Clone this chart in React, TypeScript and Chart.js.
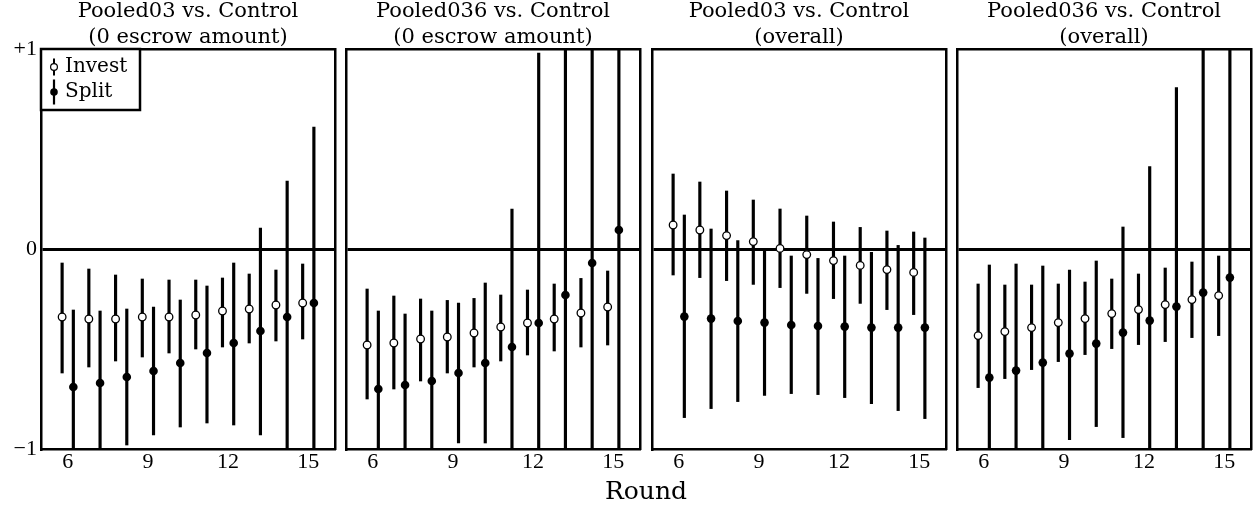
import React, { useEffect, useRef } from 'react';
import { Chart, registerables } from 'chart.js';

Chart.register(...registerables);

// ---------- data ----------
const ROUNDS = [6, 7, 8, 9, 10, 11, 12, 13, 14, 15];
const X_TICKS = [6, 9, 12, 15];
const Y_TICKS = [-1, 0, 1];
const X_MIN = 5;
const X_MAX = 16;
const Y_MIN = -1;
const Y_MAX = 1;
const SERIES = ['Invest', 'Split'];
const TITLES = [
  ['Pooled03 vs. Control', '(0 escrow amount)'],
  ['Pooled036 vs. Control', '(0 escrow amount)'],
  ['Pooled03 vs. Control', '(overall)'],
  ['Pooled036 vs. Control', '(overall)'],
];
const X_LABEL = 'Round';

// Panel 1: Pooled03 vs. Control (0 escrow amount)
const p1InvestMean = [-0.34, -0.35, -0.35, -0.34, -0.34, -0.33, -0.31, -0.30, -0.28, -0.27];
const p1InvestLow = [-0.62, -0.59, -0.56, -0.54, -0.52, -0.50, -0.49, -0.47, -0.46, -0.45];
const p1InvestHigh = [-0.07, -0.10, -0.13, -0.15, -0.155, -0.155, -0.145, -0.125, -0.105, -0.075];
const p1SplitMean = [-0.69, -0.67, -0.64, -0.61, -0.57, -0.52, -0.47, -0.41, -0.34, -0.27];
const p1SplitLow = [-1.1, -1.1, -0.98, -0.93, -0.89, -0.87, -0.88, -0.93, -1.1, -1.1];
const p1SplitHigh = [-0.305, -0.31, -0.30, -0.29, -0.255, -0.185, -0.07, 0.105, 0.34, 0.61];

// Panel 2: Pooled036 vs. Control (0 escrow amount)
const p2InvestMean = [-0.48, -0.47, -0.45, -0.44, -0.42, -0.39, -0.37, -0.35, -0.32, -0.29];
const p2InvestLow = [-0.75, -0.70, -0.66, -0.62, -0.59, -0.56, -0.53, -0.51, -0.49, -0.48];
const p2InvestHigh = [-0.20, -0.235, -0.25, -0.257, -0.247, -0.23, -0.205, -0.175, -0.147, -0.11];
const p2SplitMean = [-0.70, -0.68, -0.66, -0.62, -0.57, -0.49, -0.37, -0.23, -0.07, 0.095];
const p2SplitLow = [-1.1, -1.1, -1.1, -0.97, -0.97, -1.1, -1.1, -1.1, -1.1, -1.1];
const p2SplitHigh = [-0.31, -0.325, -0.31, -0.27, -0.17, 0.20, 0.98, 1.1, 1.1, 1.1];

// Panel 3: Pooled03 vs. Control (overall)
const p3InvestMean = [0.12, 0.095, 0.067, 0.037, 0.003, -0.028, -0.058, -0.082, -0.103, -0.117];
const p3InvestLow = [-0.13, -0.143, -0.158, -0.177, -0.193, -0.222, -0.248, -0.272, -0.303, -0.328];
const p3InvestHigh = [0.375, 0.335, 0.29, 0.245, 0.20, 0.165, 0.135, 0.108, 0.09, 0.085];
const p3SplitMean = [-0.338, -0.348, -0.36, -0.368, -0.38, -0.385, -0.388, -0.393, -0.393, -0.393];
const p3SplitLow = [-0.843, -0.798, -0.763, -0.732, -0.723, -0.728, -0.743, -0.773, -0.808, -0.848];
const p3SplitHigh = [0.17, 0.10, 0.042, -0.008, -0.035, -0.047, -0.035, -0.017, 0.018, 0.055];

// Panel 4: Pooled036 vs. Control (overall)
const p4InvestMean = [-0.433, -0.413, -0.393, -0.368, -0.348, -0.323, -0.303, -0.278, -0.253, -0.233];
const p4InvestLow = [-0.693, -0.648, -0.603, -0.563, -0.528, -0.498, -0.478, -0.463, -0.443, -0.433];
const p4InvestHigh = [-0.175, -0.18, -0.18, -0.175, -0.165, -0.15, -0.125, -0.095, -0.065, -0.035];
const p4SplitMean = [-0.643, -0.608, -0.568, -0.523, -0.473, -0.418, -0.358, -0.288, -0.218, -0.143];
const p4SplitLow = [-1.1, -1.1, -1.1, -0.953, -0.888, -0.943, -1.1, -1.1, -1.1, -1.1];
const p4SplitHigh = [-0.08, -0.075, -0.085, -0.105, -0.06, 0.11, 0.412, 0.807, 1.1, 1.1];

const PANELS = [
  { investMean: p1InvestMean, investLow: p1InvestLow, investHigh: p1InvestHigh, splitMean: p1SplitMean, splitLow: p1SplitLow, splitHigh: p1SplitHigh },
  { investMean: p2InvestMean, investLow: p2InvestLow, investHigh: p2InvestHigh, splitMean: p2SplitMean, splitLow: p2SplitLow, splitHigh: p2SplitHigh },
  { investMean: p3InvestMean, investLow: p3InvestLow, investHigh: p3InvestHigh, splitMean: p3SplitMean, splitLow: p3SplitLow, splitHigh: p3SplitHigh },
  { investMean: p4InvestMean, investLow: p4InvestLow, investHigh: p4InvestHigh, splitMean: p4SplitMean, splitLow: p4SplitLow, splitHigh: p4SplitHigh },
];

// ---------- layout / style ----------
const FIG_W = 1259;
const FIG_H = 512;
const PLOT_LEFT = [41, 346, 652, 957];
const PLOT_W = 294;
const PLOT_TOP = 49;
const PLOT_BOTTOM = 449;
const FIRST_AXIS_W = 41;
const SIDE_GAP = 6;
const INVEST_SHIFT = -0.21;
const SPLIT_SHIFT = 0.21;
const FRAME_W = 2.5;
const ERR_W = 2.5;
const NUM_FONT = 'Liberation Serif';
const WORD_FONT = 'DejaVu Serif';

const fmtY = (v: number) => (v > 0 ? '+' + v : v < 0 ? '\u2212' + Math.abs(v) : '0');

const insetLegend = {
  id: 'insetLegend',
  afterDraw(chart: any, _args: any, opts: any) {
    if (!opts || !opts.display) return;
    const { ctx, chartArea } = chart;
    const x0 = chartArea.left;
    const y0 = chartArea.top;
    ctx.save();
    ctx.fillStyle = '#fff';
    ctx.fillRect(x0, y0, opts.width, opts.height);
    ctx.lineWidth = FRAME_W;
    ctx.strokeStyle = '#000';
    ctx.strokeRect(x0, y0, opts.width, opts.height);
    ctx.font = `20px "${WORD_FONT}"`;
    ctx.textBaseline = 'middle';
    ctx.textAlign = 'left';
    opts.items.forEach((it: any, i: number) => {
      const cy = y0 + opts.firstY + i * opts.step;
      const mx = x0 + opts.markerX;
      ctx.fillStyle = '#000';
      ctx.fillRect(mx - it.lw / 2, cy - it.len / 2, it.lw, it.len);
      ctx.beginPath();
      ctx.arc(mx, cy, it.r, 0, Math.PI * 2);
      ctx.fillStyle = it.filled ? '#000' : '#fff';
      ctx.fill();
      if (!it.filled) {
        ctx.lineWidth = 1.2;
        ctx.strokeStyle = '#000';
        ctx.stroke();
      }
      ctx.fillStyle = '#000';
      ctx.fillText(it.text, x0 + opts.textX, cy);
    });
    ctx.restore();
  },
};

function buildConfig(i: number): any {
  const p = PANELS[i];
  const border = { display: true, color: '#000', width: FRAME_W };
  return {
    type: 'bar',
    data: {
      datasets: [
        {
          type: 'scatter',
          label: SERIES[0],
          data: ROUNDS.map((r, k) => ({ x: r + INVEST_SHIFT, y: p.investMean[k] })),
          pointRadius: 3.8,
          pointHoverRadius: 3.8,
          pointBackgroundColor: '#fff',
          pointBorderColor: '#000',
          pointBorderWidth: 1.3,
          showLine: false,
          order: 0,
        },
        {
          type: 'scatter',
          label: SERIES[1],
          data: ROUNDS.map((r, k) => ({ x: r + SPLIT_SHIFT, y: p.splitMean[k] })),
          pointRadius: 4.3,
          pointHoverRadius: 4.3,
          pointBackgroundColor: '#000',
          pointBorderColor: '#000',
          pointBorderWidth: 0,
          showLine: false,
          order: 1,
        },
        {
          type: 'bar',
          label: SERIES[0] + ' interval',
          data: ROUNDS.map((r, k) => ({ x: r + INVEST_SHIFT, y: [p.investLow[k], p.investHigh[k]] })),
          backgroundColor: '#000',
          borderWidth: 0,
          barThickness: ERR_W,
          grouped: false,
          clip: 0,
          order: 2,
        },
        {
          type: 'bar',
          label: SERIES[1] + ' interval',
          data: ROUNDS.map((r, k) => ({ x: r + SPLIT_SHIFT, y: [p.splitLow[k], p.splitHigh[k]] })),
          backgroundColor: '#000',
          borderWidth: 0,
          barThickness: ERR_W,
          grouped: false,
          clip: 0,
          order: 3,
        },
      ],
    },
    options: {
      responsive: false,
      animation: false,
      devicePixelRatio: 1,
      events: [],
      layout: { padding: 0 },
      plugins: {
        legend: { display: false },
        tooltip: { enabled: false },
        title: {
          display: true,
          text: TITLES[i],
          color: '#000',
          fullSize: false,
          font: { family: WORD_FONT, size: 21, weight: 'normal', lineHeight: '26px' },
          padding: { top: -1, bottom: -2 },
        },
        insetLegend: {
          display: i === 0,
          width: 99,
          height: 61,
          markerX: 13,
          textX: 24,
          firstY: 18,
          step: 25,
          items: [
            { text: SERIES[0], filled: false, r: 3.4, lw: 2, len: 17 },
            { text: SERIES[1], filled: true, r: 3.8, lw: 2.2, len: 25 },
          ],
        },
      },
      scales: {
        x: {
          type: 'linear',
          position: 'bottom',
          min: X_MIN,
          max: X_MAX,
          offset: false,
          grid: { display: false, drawTicks: false, offset: false },
          border,
          ticks: { color: '#000', font: { family: NUM_FONT, size: 22 }, padding: 0, autoSkip: false, maxRotation: 0 },
          afterBuildTicks: (s: any) => { s.ticks = X_TICKS.map((v) => ({ value: v })); },
          afterFit: (s: any) => { s.height = FIG_H - PLOT_BOTTOM; },
        },
        xTop: {
          type: 'linear',
          position: 'top',
          min: X_MIN,
          max: X_MAX,
          grid: { display: false, drawTicks: false },
          border,
          ticks: { display: false },
          afterFit: (s: any) => { s.height = 0; },
        },
        y: {
          type: 'linear',
          position: 'left',
          min: Y_MIN,
          max: Y_MAX,
          grid: {
            display: true,
            drawTicks: false,
            lineWidth: 3,
            color: (c: any) => (c.tick && c.tick.value === 0 ? '#000' : 'rgba(0,0,0,0)'),
          },
          border,
          ticks: {
            display: i === 0,
            color: '#000',
            font: { family: NUM_FONT, size: 22 },
            padding: 4,
            callback: (v: any) => fmtY(Number(v)),
          },
          afterBuildTicks: (s: any) => { s.ticks = Y_TICKS.map((v) => ({ value: v })); },
          afterFit: (s: any) => { s.width = i === 0 ? FIRST_AXIS_W : SIDE_GAP; },
        },
        yRight: {
          type: 'linear',
          position: 'right',
          min: Y_MIN,
          max: Y_MAX,
          grid: { display: false, drawTicks: false },
          border,
          ticks: { display: false },
          afterFit: (s: any) => { s.width = SIDE_GAP; },
        },
      },
    },
    plugins: [insetLegend],
  };
}

function canvasLeft(i: number) {
  return PLOT_LEFT[i] - (i === 0 ? FIRST_AXIS_W : SIDE_GAP);
}
function canvasWidth(i: number) {
  return (i === 0 ? FIRST_AXIS_W : SIDE_GAP) + PLOT_W + SIDE_GAP;
}

export default function App() {
  const refs = useRef<(HTMLCanvasElement | null)[]>([]);
  useEffect(() => {
    const charts = PANELS.map((_, i) => new Chart(refs.current[i] as HTMLCanvasElement, buildConfig(i)));
    return () => charts.forEach((c) => c.destroy());
  }, []);
  return (
    <div style={{ position: 'fixed', left: 0, top: 0, width: FIG_W, height: FIG_H, background: '#fff', overflow: 'hidden' }}>
      {PANELS.map((_, i) => (
        <canvas
          key={i}
          ref={(el) => { refs.current[i] = el; }}
          width={canvasWidth(i)}
          height={FIG_H}
          style={{ position: 'absolute', left: canvasLeft(i), top: 0, width: canvasWidth(i), height: FIG_H }}
        />
      ))}
      <div
        style={{
          position: 'absolute',
          left: 646,
          top: 476,
          transform: 'translateX(-50%)',
          fontFamily: `"${WORD_FONT}"`,
          fontSize: 25,
          lineHeight: '30px',
          whiteSpace: 'nowrap',
          color: '#000',
        }}
      >
        {X_LABEL}
      </div>
    </div>
  );
}
